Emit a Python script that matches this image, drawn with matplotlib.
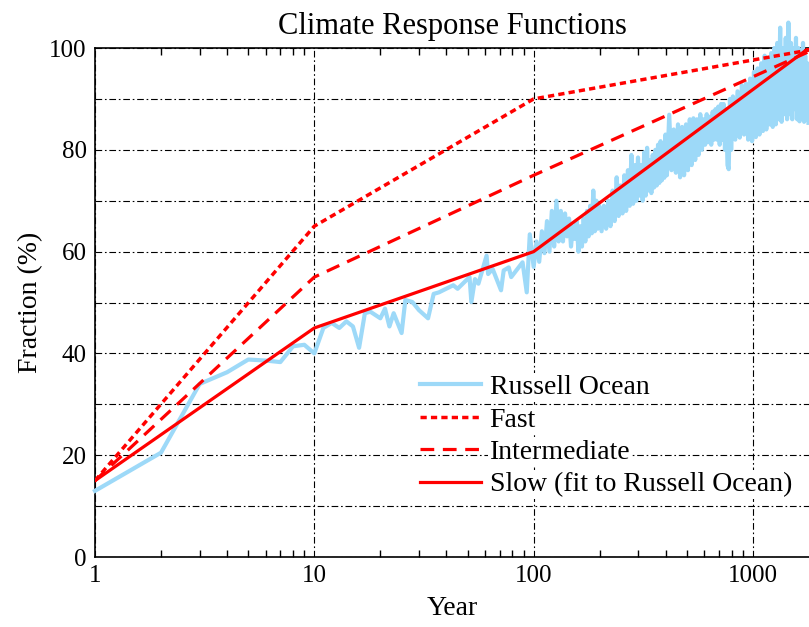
import matplotlib
matplotlib.use("Agg")
import matplotlib.pyplot as plt
from matplotlib.ticker import LogLocator, FixedLocator, NullFormatter

plt.rcParams['font.family'] = ['Liberation Serif', 'DejaVu Serif']

# Russell Ocean data
russell_years = [1, 2, 3, 4, 5, 6, 7, 8, 9, 10, 11, 12, 13, 14, 15, 16, 17, 18, 20, 21,
                 22, 23, 25, 26, 28, 30, 33, 35, 37, 43, 45, 51, 52, 54, 56, 61, 62, 65, 71, 73,
                 77, 79, 89, 93, 96, 98,
                 100, 103, 106, 109, 112, 115, 118, 121, 124, 127, 130, 133, 136, 139, 142, 145,
                 148, 151, 154, 157, 160, 163, 166, 169, 172, 175, 178, 181, 184, 187, 190, 193,
                 196, 199,
                 204, 209, 214, 219, 224, 229, 234, 239, 244, 249, 254, 259, 264, 269, 274, 279,
                 284, 289, 294, 299, 304, 309, 314, 319, 324, 329, 334, 339, 344, 349, 354, 359,
                 364, 369, 374, 379, 384, 389, 394, 399,
                 405, 415, 425, 435, 445, 455, 465, 475, 485, 495, 505, 515, 525, 535, 545, 555,
                 565, 575, 585, 595, 605, 615, 625, 635, 645, 655, 665, 675, 685, 695, 705, 715,
                 725, 735, 745, 755, 765, 775, 785, 795,
                 810, 830, 850, 870, 890, 910, 930, 950, 970, 990, 1010, 1030, 1050, 1070, 1090,
                 1110, 1130, 1150, 1170, 1190, 1210, 1230, 1250, 1270, 1290, 1310, 1330, 1350,
                 1370, 1390, 1410, 1430, 1450, 1470, 1490, 1510, 1530, 1550, 1570, 1590, 1610,
                 1630, 1650, 1670, 1690, 1710, 1730, 1750, 1770, 1790]
russell_vals = [13, 20.5, 34, 36.3, 38.8, 38.6, 38.3, 41.4, 41.7, 40, 45, 46, 45, 46.3, 45.3, 41.1, 47.9, 48.2, 46.9, 48.8,
                45.3, 47.9, 44, 50.5, 50.1, 48.5, 46.9, 51.7, 52, 53.4, 52.7, 55, 50.1, 54.6, 53.7, 59.2, 55.6, 56.6, 52.4, 56.3,
                56.9, 55, 57.9, 52, 63.4, 60.1,
                57, 62, 58, 64, 59.7, 66, 60, 68, 61, 70, 62, 68, 62, 67.5, 63, 66.5,
                61, 65, 62.5, 66, 60, 65, 61, 66.5, 62, 68, 63, 69, 63.6, 72, 64, 70,
                64.5, 69,
                64, 69, 64.5, 70, 65, 72, 66, 74.6, 67, 73, 67.5, 75, 68, 76, 69, 79,
                69.4, 77, 70, 78.5, 71, 77, 70, 79.5, 71, 80.4, 72, 78, 71.5, 79, 72.6, 80,
                73, 81, 73.5, 81.7, 74, 80, 74.5, 83,
                75, 86.9, 76, 84, 75.5, 85, 74.6, 84.5, 75, 85, 76, 86, 77, 86.2, 78, 86,
                79, 87, 80, 86, 81, 87, 81.5, 86.5, 81, 87.5, 82, 88, 82, 88.5, 81, 89,
                82, 89, 80, 88, 77, 76.2, 90, 80,
                90.5, 82, 91.5, 82.4, 92.7, 83, 93, 82, 94, 81.7, 95.3, 82.5, 96, 83, 97,
                83.7, 98.5, 84, 97.5, 85, 99, 84.5, 100, 85, 101, 86, 104, 85.5,
                100, 87, 102, 86, 105, 87, 101, 86, 100, 88, 102, 86, 100,
                85.6, 99, 87, 101, 85.5, 98.5, 86, 97, 85.3]

# Response functions (piecewise in log time)
model_years = [1, 10, 100, 1800]
fast = [15, 65, 90, 99.6]
intermediate = [15, 55, 75, 99.3]
slow = [15, 45, 60, 100]

fig = plt.figure(figsize=(8.09, 6.27), dpi=100)
ax = fig.add_axes([0.1174, 0.1116, 0.8826, 0.8118])

ax.plot(russell_years, russell_vals, color='#9DD9F8', lw=3.0, label='Russell Ocean',
        clip_on=False, zorder=3)
ax.plot(model_years, fast, color='red', lw=2.5, linestyle=(0, (1.8, 1.2)), label='Fast', zorder=4)
ax.plot(model_years, intermediate, color='red', lw=2.3, linestyle=(0, (4.3, 2.7)), label='Intermediate', zorder=4)
ax.plot(model_years, slow, color='red', lw=2.3, label='Slow (fit to Russell Ocean)', zorder=4)

ax.set_xscale('log')
ax.set_xlim(1, 1800)
ax.set_ylim(0, 100)
ax.xaxis.set_major_locator(FixedLocator([1, 10, 100, 1000]))
ax.set_xticklabels(['1', '10', '100', '1000'])
ax.xaxis.set_minor_locator(LogLocator(base=10, subs=range(2, 10), numticks=20))
ax.xaxis.set_minor_formatter(NullFormatter())
ax.set_yticks([0, 20, 40, 60, 80, 100])
ax.set_yticks(range(10, 100, 20), minor=True)

ax.tick_params(axis='x', which='both', direction='in', top=True, labelsize=18, pad=6)
ax.tick_params(axis='x', which='major', length=0)
ax.tick_params(axis='x', which='minor', length=5, width=1)
ax.tick_params(axis='y', which='both', direction='in', length=0, labelsize=18, pad=6)

ax.grid(True, which='major', axis='x', color='black', lw=0.8, linestyle=(0, (6, 2.5, 1.5, 2.5)))
ax.grid(True, which='both', axis='y', color='black', lw=0.8, linestyle=(0, (6, 2.5, 1.5, 2.5)))
ax.set_axisbelow(True)

for s in ['left', 'bottom', 'top']:
    ax.spines[s].set_linewidth(1.2)
ax.spines['right'].set_visible(False)

ax.set_title('Climate Response Functions', fontsize=22, pad=10)
ax.set_xlabel('Year', fontsize=20, labelpad=6)
ax.set_ylabel('Fraction (%)', fontsize=20, labelpad=4)

leg = ax.legend(loc='upper left', bbox_to_anchor=(0.44, 0.38), frameon=False, fontsize=20,
                handlelength=2.2, handletextpad=0.3, labelspacing=0.25, borderaxespad=0)
for t in leg.get_texts():
    t.set_bbox(dict(facecolor='white', edgecolor='none', pad=1.5))
leg.set_zorder(5)

fig.savefig('out.png', dpi=100)
